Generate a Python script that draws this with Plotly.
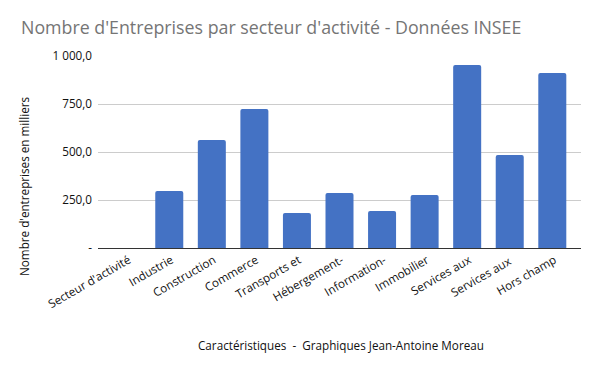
import plotly.graph_objects as go

categories = ["Secteur d'activité", "Industrie", "Construction", "Commerce", "Transports et",
              "Hébergement-", "Information-", "Immobilier", "Services aux", "Services aux ",
              "Hors champ"]
values = [None, 297, 562, 724, 182, 286, 193, 276, 953, 484, 911]
y_tickvals = [0, 250, 500, 750, 1000]
y_ticktext = ["-", "250,0", "500,0", "750,0", "1 000,0"]

title_text = "Nombre d'Entreprises par secteur d'activité - Données INSEE"
x_title = "Caractéristiques  -  Graphiques Jean-Antoine Moreau"
y_title = "Nombre d'entreprises en milliers"

fig = go.Figure(go.Bar(
    x=categories, y=values,
    marker=dict(color="#4472C4", line=dict(width=0), cornerradius=2),
))

font = "Open Sans, Noto Sans, sans-serif"
W, H = 600, 371
L, R, T, B = 98, 19, 56, 123
pw, ph = W - L - R, H - T - B
pad = 0.1745

fig.update_layout(
    width=W, height=H,
    paper_bgcolor="white", plot_bgcolor="white",
    margin=dict(l=L, r=R, t=T, b=B, autoexpand=False),
    bargap=0.342,
    showlegend=False,
    title=dict(text=title_text, x=21 / W, xanchor="left", xref="container",
               y=1 - 28 / H, yanchor="middle", yref="container",
               font=dict(family=font, size=17.8, color="#757575")),
    font=dict(family=font, color="#111111"),
    annotations=[
        dict(text=x_title, xref="paper", yref="paper",
             x=(341 - L) / pw, y=-(345 - (H - B)) / ph,
             xanchor="center", yanchor="middle", showarrow=False,
             font=dict(family=font, size=11.7, color="#111111")),
        dict(text=y_title, xref="paper", yref="paper", textangle=-90,
             x=(24 - L) / pw, y=((H - B) - 187) / ph,
             xanchor="center", yanchor="middle", showarrow=False,
             font=dict(family=font, size=11.7, color="#111111")),
    ],
)
fig.update_xaxes(
    range=[-0.5 - pad, len(categories) - 0.5 + pad],
    tickangle=-30, tickfont=dict(size=11.7, color="#111111"),
    showline=True, linecolor="#333333", linewidth=1,
    ticks="", showgrid=False, automargin=False,
    ticklabelshift=2,
)
fig.update_yaxes(
    range=[0, 1000], tickvals=y_tickvals, ticktext=y_ticktext,
    tickfont=dict(size=11.7, color="#111111"),
    showgrid=True, gridcolor="#cccccc", gridwidth=1,
    zeroline=False, ticks="", ticklabelstandoff=5, automargin=False,
)
fig.write_html(
    "out.html",
    config={"displayModeBar": False},
    post_script="document.body.style.margin='0px';document.body.style.overflow='hidden';",
)
